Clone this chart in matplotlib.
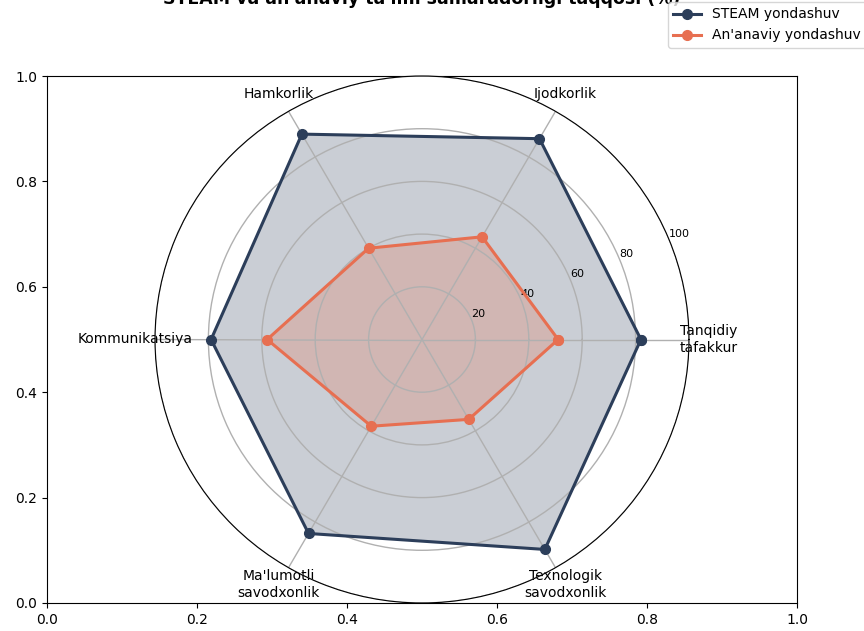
import matplotlib
matplotlib.use('Agg')
from matplotlib import pyplot as plt
import numpy as np

# Data
categories = ['Tanqidiy\ntafakkur', 'Ijodkorlik', 'Hamkorlik', 'Kommunikatsiya',
              "Ma'lumotli\nsavodxonlik", 'Texnologik\nsavodxonlik']
steam = [82, 88, 90, 79, 85, 92]
traditional = [51, 45, 40, 58, 38, 35]
r_ticks = [20, 40, 60, 80, 100]

angles = np.linspace(0, 2 * np.pi, len(categories), endpoint=False).tolist()
angles_closed = angles + angles[:1]
steam_closed = steam + steam[:1]
trad_closed = traditional + traditional[:1]

fig = plt.figure(figsize=(8.64, 6.31), dpi=100)
ax0 = fig.add_axes([47 / 864, 28 / 631, 750 / 864, 527 / 631])
ax = fig.add_axes([155 / 864, 28 / 631, 534 / 864, 527 / 631], polar=True)
ax.set_aspect('auto')

steam_color = '#2c3e5a'
trad_color = '#e76f51'

ax.plot(angles_closed, steam_closed, color=steam_color, linewidth=2.2,
        marker='o', markersize=7, label='STEAM yondashuv')
ax.fill(angles_closed, steam_closed, color=steam_color, alpha=0.25)
ax.plot(angles_closed, trad_closed, color=trad_color, linewidth=2.2,
        marker='o', markersize=7, label="An'anaviy yondashuv")
ax.fill(angles_closed, trad_closed, color=trad_color, alpha=0.25)

ax.set_xticks(angles)
ax.set_xticklabels(categories, fontsize=10)
ax.set_ylim(0, 100)
ax.set_yticks(r_ticks)
ax.set_yticklabels([str(t) for t in r_ticks], fontsize=8)
ax.set_rlabel_position(22.5)
ax.grid(True, color='#b0b0b0', linewidth=1)

ax.set_title("STEAM va an'anaviy ta'lim samaradorligi taqqosi (%)",
             fontsize=12.5, fontweight='bold', pad=52)

fig.legend(loc='upper right', bbox_to_anchor=(1.003, 0.997),
           bbox_transform=fig.transFigure, borderaxespad=0, fontsize=10)

fig.savefig('out.png', dpi=100)
